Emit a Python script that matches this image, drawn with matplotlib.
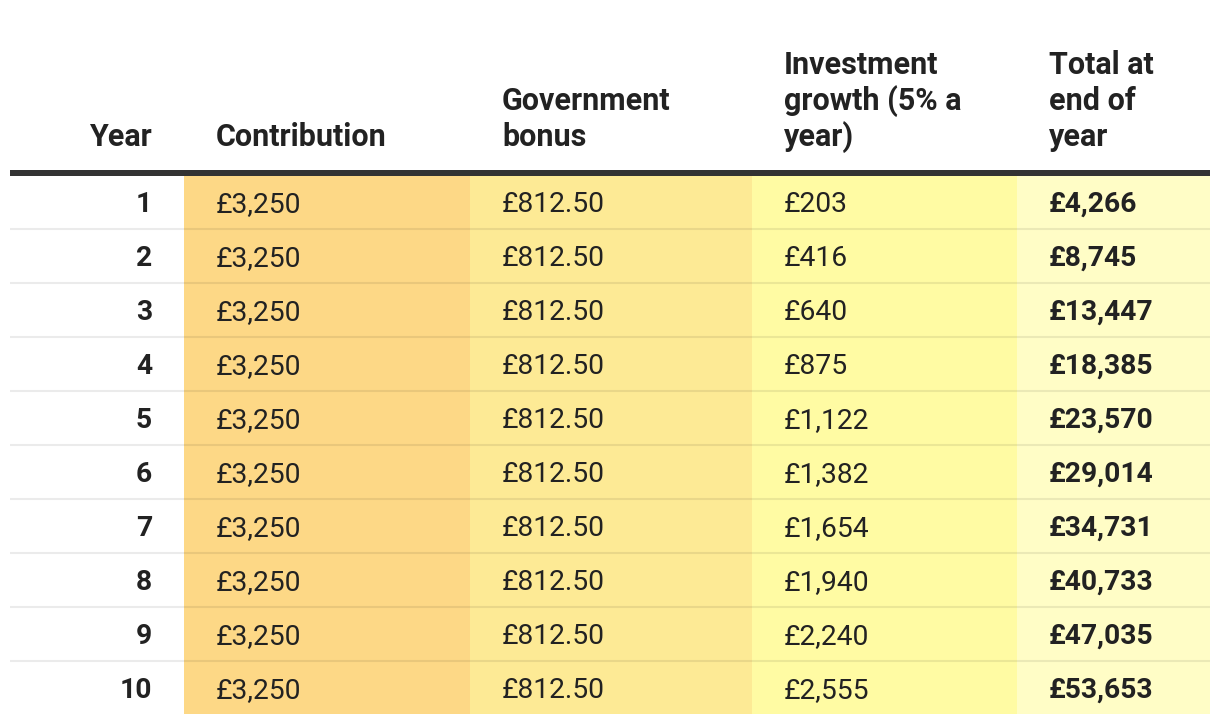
import matplotlib.pyplot as plt
from matplotlib.patches import Rectangle

plt.rcParams['font.family'] = ['Roboto', 'DejaVu Sans']

# table data
years = [1, 2, 3, 4, 5, 6, 7, 8, 9, 10]
contribution = [3250] * 10
gov_bonus = [812.50] * 10
growth = [203, 416, 640, 875, 1122, 1382, 1654, 1940, 2240, 2555]
total = [4266, 8745, 13447, 18385, 23570, 29014, 34731, 40733, 47035, 53653]

headers = [["Year"], ["Contribution"], ["Government", "bonus"],
           ["Investment", "growth (5% a", "year)"], ["Total at", "end of", "year"]]

# layout (pixels)
W, H = 1220, 724
col_edges = [10, 184, 470, 752, 1017, 1210]
col_fill = [None, '#fdd886', '#fdea95', '#fffba3', '#fffdc6']
text_x = [152, 216, 502, 784, 1049]
top, row_h = 176, 54
ink = '#222222'

fig = plt.figure(figsize=(W / 100, H / 100), dpi=100)
ax = fig.add_axes([0, 0, 1, 1])
ax.set_xlim(0, W)
ax.set_ylim(H, 0)
ax.axis('off')

n = len(years)
bottom = top + row_h * n - 2

# column backgrounds
for c in range(1, 5):
    ax.add_patch(Rectangle((col_edges[c], top), col_edges[c + 1] - col_edges[c],
                           bottom - top, color=col_fill[c], lw=0, zorder=1))

# header rule
ax.add_patch(Rectangle((10, 170), 1200, 6, color='#333333', lw=0, zorder=3))

# row separators
for i in range(1, n):
    y = top + row_h * i - 1
    ax.plot([10, 1210], [y, y], color='black', alpha=0.08, lw=1.5,
            solid_capstyle='butt', zorder=2)

# headers
for c, lines in enumerate(headers):
    ha = 'right' if c == 0 else 'left'
    for k, line in enumerate(reversed(lines)):
        ax.text(text_x[c], 146 - 36 * k, line, ha=ha, va='baseline',
                fontsize=22, fontweight='bold', color=ink, zorder=4)

# body
for i in range(n):
    yb = 212 + row_h * i
    cells = [str(years[i]),
             '£{:,}'.format(contribution[i]),
             '£{:,.2f}'.format(gov_bonus[i]),
             '£{:,}'.format(growth[i]),
             '£{:,}'.format(total[i])]
    for c, s in enumerate(cells):
        bold = c in (0, 4)
        ax.text(text_x[c], yb, s, ha='right' if c == 0 else 'left', va='baseline',
                fontsize=20.3, fontweight='bold' if bold else 'normal',
                color=ink, zorder=4)

fig.savefig('out.png', dpi=100)
